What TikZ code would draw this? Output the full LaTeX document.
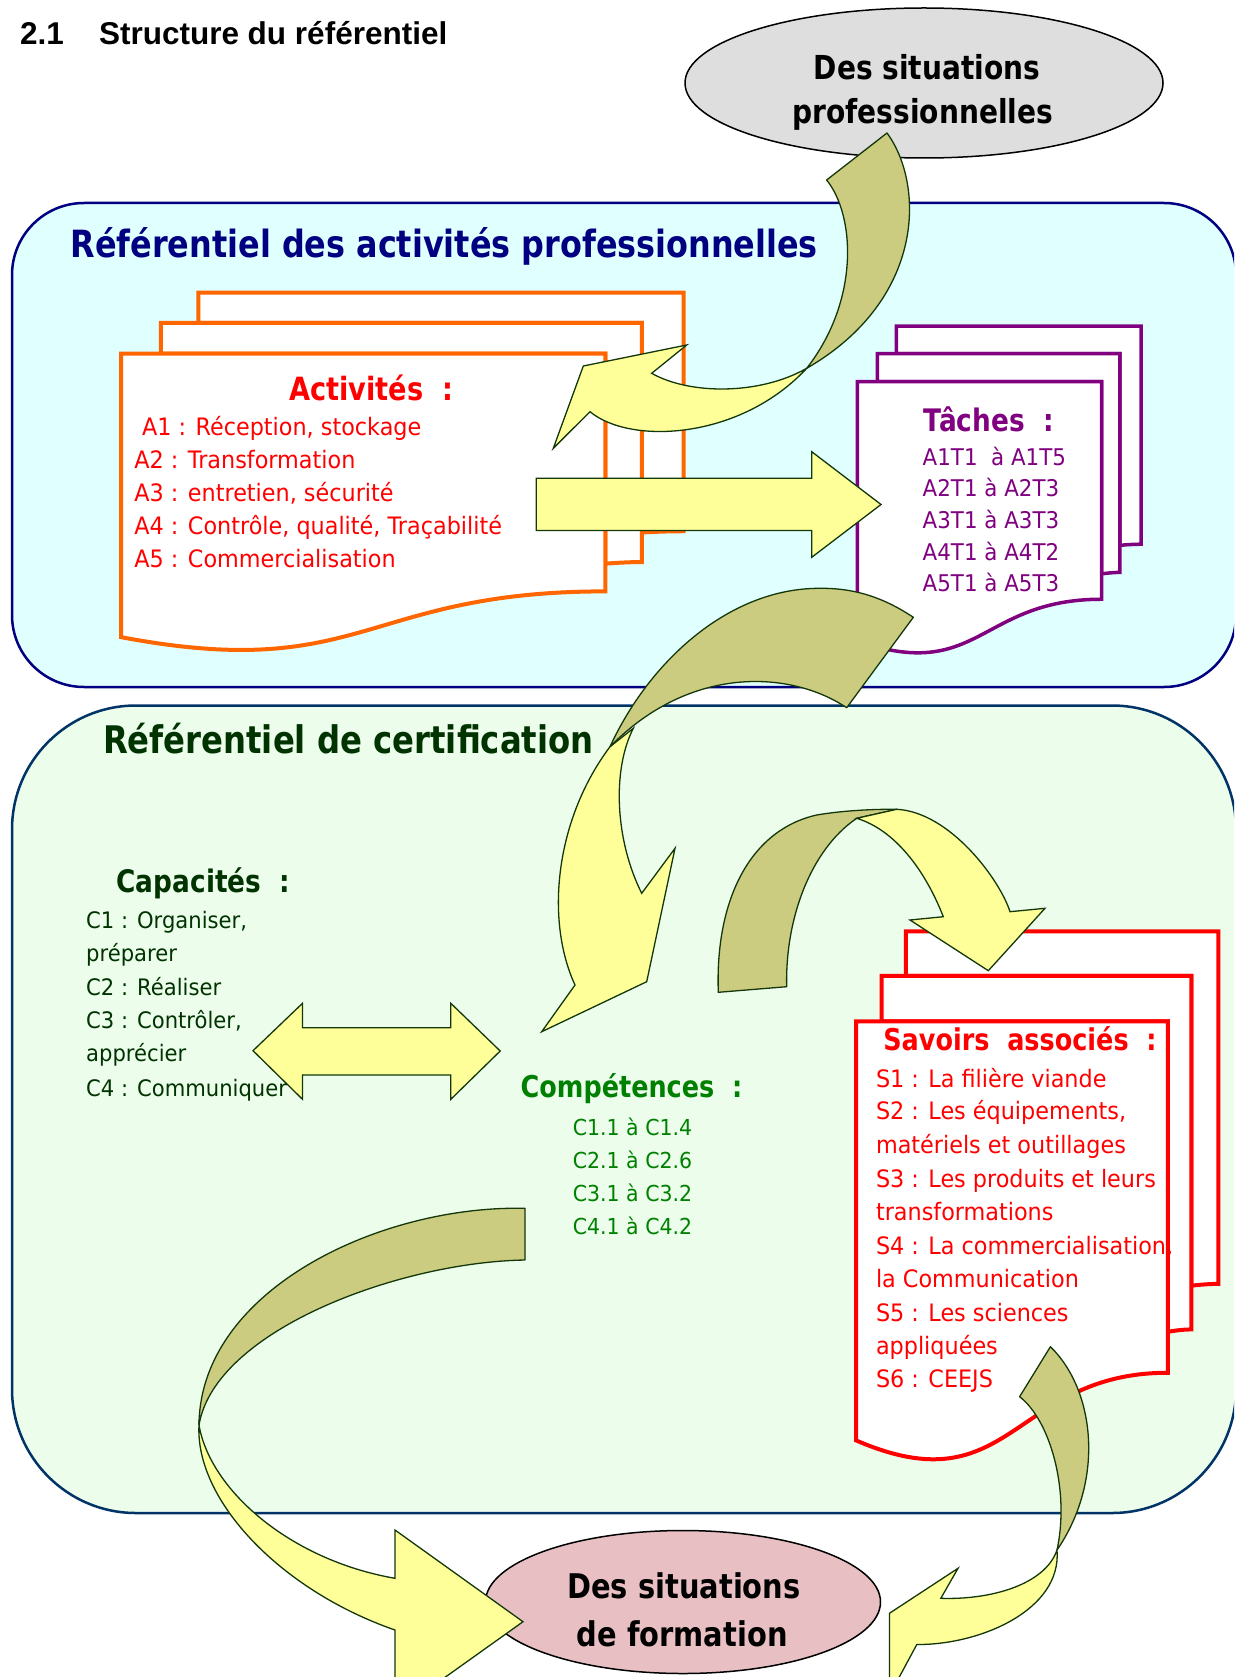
\documentclass[tikz,border=0pt]{standalone}
\usepackage{fontspec}
\newfontfamily\cfont{DejaVu Sans}[FakeStretch=0.93]
\newfontfamily\cbfont{DejaVu Sans}[FakeStretch=0.85]
\newfontfamily\arialfont{Liberation Sans}
\usetikzlibrary{shapes.geometric}
\definecolor{topfill}{RGB}{224,255,255}
\definecolor{navyc}{RGB}{0,0,128}
\definecolor{botfill}{RGB}{236,253,236}
\definecolor{botline}{RGB}{0,51,102}
\definecolor{dkgreen}{RGB}{0,51,0}
\definecolor{greenc}{RGB}{0,128,0}
\definecolor{orangec}{RGB}{255,102,0}
\definecolor{purplec}{RGB}{128,0,128}
\definecolor{redc}{RGB}{255,0,0}
\definecolor{olivec}{RGB}{204,204,128}
\definecolor{yelc}{RGB}{255,255,153}
\definecolor{arrline}{RGB}{20,55,10}
\definecolor{greyell}{RGB}{222,222,222}
\definecolor{pinkell}{RGB}{232,192,196}
\newcommand\mdoc[5]{%
 \begin{scope}[shift={(#1,#2)}, x=#3pt, y=-#4pt]
  \filldraw[fill=white, draw=#5, line join=miter] (13.76,8.40) -- (13.76,0) -- (100,0) -- (100,66.63) .. controls (96.30,66.63) and (92.59,66.98) .. (92.59,66.98) -- (92.59,8.40) -- cycle;
  \filldraw[fill=white, draw=#5, line join=miter] (7.09,17.01) -- (7.09,8.40) -- (92.59,8.40) -- (92.59,75.24) .. controls (89.34,75.24) and (86.09,75.70) .. (86.09,75.70) -- (86.09,17.01) -- cycle;
  \filldraw[fill=white, draw=#5, line join=miter] (0,96.21) .. controls (43.05,108.99) and (43.05,83.43) .. (86.09,83.43) -- (86.09,17.01) -- (0,17.01) -- cycle;
 \end{scope}}
\begin{document}
\begin{tikzpicture}[x=1pt,y=-1pt,
  txt/.style={inner sep=0pt, outer sep=0pt, anchor=base west},
  ctxt/.style={inner sep=0pt, outer sep=0pt, anchor=base},
  fr/.style={font=\cfont\fontsize{#1}{#1}\selectfont},
  fb/.style={font=\cbfont\bfseries\fontsize{#1}{#1}\selectfont},
  olv/.style={fill=olivec, draw=arrline, line width=1.3pt, line join=round},
  ylw/.style={fill=yelc, draw=arrline, line width=1.3pt, line join=miter},
  ell/.style={ellipse, draw=black, line width=1.5pt, inner sep=0pt}]
\useasboundingbox (0,0) rectangle (1234,1677);
\clip (0,0) rectangle (1234,1677);
\fill[white] (0,0) rectangle (1234,1677);

% frames
\node[draw=navyc, line width=2.5pt, fill=topfill, rounded corners=72pt, minimum width=1224pt, minimum height=484pt, inner sep=0pt] (boxA) at (624,445) {};
\node[draw=botline, line width=2.5pt, fill=botfill, rounded corners=124pt, minimum width=1224pt, minimum height=807.5pt, inner sep=0pt] (boxB) at (624,1109.25) {};

% ellipses
\node[ell, fill=greyell, minimum width=478pt, minimum height=150pt] (ellPro) at (924,83) {};
\node[ell, fill=pinkell, minimum width=395pt, minimum height=143pt] (ellForm) at (683,1602) {};

% document stacks
\mdoc{121}{292.7}{5.626}{3.58}{orangec, line width=4pt}
\mdoc{857.3}{326}{2.837}{3.275}{purplec, line width=3.5pt}
\mdoc{856}{931.4}{3.623}{5.29}{redc, line width=4pt}

% arrow: Activités -> Tâches
\draw[ylw] (536.3,478.3) -- (811.7,478.3) -- (811.7,451.7) -- (881,504.5) -- (811.7,557.3) -- (811.7,530.5) -- (536.3,530.5) -- cycle;

% arrow: situations pro -> Activités
\draw[olv] (887,133) .. controls (925,185) and (925,300) .. (806.7,368.3) .. controls (860,300) and (855,215) .. (826.6,180) -- cycle;
\draw[ylw] (806.7,368.3) .. controls (760,395) and (690,395) .. (651.7,373.3) -- (686.7,345) -- (583.3,366) -- (553.3,448.3) -- (590,411.7) .. controls (630,445) and (740,440) .. (806.7,368.3) -- cycle;

% arrow: Tâches -> Compétences
\draw[ylw] (610,746.7) .. controls (555,820) and (545,920) .. (575,985) -- (541.7,1031.7) -- (646.7,981.7) -- (675,848.3) -- (641.7,893.3) .. controls (615,840) and (612,770) .. (633.3,728.3) -- cycle;
\draw[olv] (913.3,617.3) .. controls (880,595) and (850,588) .. (820,588.3) .. controls (730,588) and (650,660) .. (610,746.7) .. controls (690,665) and (790,670) .. (846.7,707.7) -- cycle;

% arrow: Compétences -> Savoirs
\draw[olv] (718.3,992.3) .. controls (715,900) and (750,830) .. (816.7,815) .. controls (840,811) and (870,809) .. (896.7,809.3) -- (856.7,818.3) .. controls (810,850) and (785,920) .. (786.7,986.7) -- cycle;
\draw[ylw] (896.7,809.3) .. controls (950,812) and (1000,880) .. (1010,911.7) -- (1045,908.3) -- (988.3,970.7) -- (910,920) -- (943.3,916.7) .. controls (925,870) and (895,830) .. (856.7,818.3) -- cycle;

% double arrow Capacités <-> Compétences
\draw[ylw] (253,1050.7) -- (302.5,1003.3) -- (302.5,1027.7) -- (450.8,1027.7) -- (450.8,1003.3) -- (500.2,1051) -- (450.8,1099.3) -- (450.8,1075) -- (302.5,1075) -- (302.5,1099.3) -- cycle;

% arrow: Compétences -> situations de formation
\draw[olv] (525,1208.3) .. controls (380,1205) and (200,1290) .. (199,1425) .. controls (215,1330) and (400,1262) .. (525,1260) -- cycle;
\draw[ylw] (199,1425) .. controls (210,1490) and (290,1560) .. (395,1578.3) -- (395,1530) -- (523,1621.7) -- (395,1713) -- (395,1630) .. controls (280,1590) and (195,1500) .. (199,1425) -- cycle;

% arrow: Savoirs -> situations de formation
\draw[olv] (1050.4,1346.7) .. controls (1095,1390) and (1105,1480) .. (1057,1550) .. controls (1070,1490) and (1050,1420) .. (1019.6,1396.7) -- cycle;
\draw[ylw] (1057,1550) .. controls (1045,1585) and (990,1600) .. (940.8,1598.3) -- (958,1568.3) -- (889.4,1613.3) -- (889.4,1695.3) -- (916.8,1644.5) .. controls (980,1645) and (1062,1610) .. (1057,1550) -- cycle;

% section title
\node[txt, font=\arialfont\bfseries\fontsize{31.5}{36}\selectfont] (secnum) at (20,45) {2.1};
\node[txt, font=\arialfont\bfseries\fontsize{31.5}{36}\selectfont] (sectitle) at (99,45) {Structure du référentiel};

% ellipse texts
\node[ctxt, fb=33] (pro1) at (927,80) {Des situations};
\node[ctxt, fb=33] (pro2) at (922.7,124) {professionnelles};
\node[ctxt, fb=34] (form1) at (684,1598.3) {Des situations};
\node[ctxt, fb=34] (form2) at (682.2,1646.7) {de formation};

% frame titles
\node[txt, fb=37.5, text=navyc] (titA) at (70.6,258) {Référentiel des activités professionnelles};
\node[txt, fb=38, text=dkgreen] (titB) at (103,753) {Référentiel de certification};

% Activités
\node[txt, fb=32, text=redc] (actH) at (289.4,400) {Activités~~:};
\node[txt, fr=24, text=redc] (act1) at (142,435.5) {A1 : Réception, stockage};
\node[txt, fr=24, text=redc] (act2) at (134.4,468.5) {A2 : Transformation};
\node[txt, fr=24, text=redc] (act3) at (134.4,501.5) {A3 : entretien, sécurité};
\node[txt, fr=24, text=redc] (act4) at (134.4,534.5) {A4 : Contrôle, qualité, Traçabilité};
\node[txt, fr=24, text=redc] (act5) at (134.4,567.5) {A5 : Commercialisation};

% Tâches
\node[txt, fb=31, text=purplec] (tacH) at (923.3,431.7) {Tâches~~:};
\node[txt, fr=23, text=purplec] (tac1) at (922.7,465) {A1T1~~à A1T5};
\node[txt, fr=23, text=purplec] (tac2) at (922.7,496.7) {A2T1 à A2T3};
\node[txt, fr=23, text=purplec] (tac3) at (922.7,528.3) {A3T1 à A3T3};
\node[txt, fr=23, text=purplec] (tac4) at (922.7,560) {A4T1 à A4T2};
\node[txt, fr=23, text=purplec] (tac5) at (922.7,591.7) {A5T1 à A5T3};

% Capacités
\node[txt, fb=31, text=dkgreen] (capH) at (116.6,892.7) {Capacités~~:};
\node[txt, fr=22.7, text=dkgreen] (cap1) at (86.2,928.3) {C1 : Organiser,};
\node[txt, fr=22.7, text=dkgreen] (cap1b) at (86.2,961.7) {préparer};
\node[txt, fr=22.7, text=dkgreen] (cap2) at (86.2,995) {C2 : Réaliser};
\node[txt, fr=22.7, text=dkgreen] (cap3) at (86.2,1028.3) {C3 : Contrôler,};
\node[txt, fr=22.7, text=dkgreen] (cap3b) at (86.2,1061.7) {apprécier};
\node[txt, fr=22.7, text=dkgreen] (cap4) at (86.2,1096) {C4 : Communiquer};

% Compétences
\node[txt, fb=30, text=greenc] (comH) at (520.7,1097.3) {Compétences~~:};
\node[ctxt, fr=22, text=greenc] (com1) at (632.5,1135.7) {C1.1 à C1.4};
\node[ctxt, fr=22, text=greenc] (com2) at (632.5,1168.3) {C2.1 à C2.6};
\node[ctxt, fr=22, text=greenc] (com3) at (632.5,1201.7) {C3.1 à C3.2};
\node[ctxt, fr=22, text=greenc] (com4) at (632.5,1234.3) {C4.1 à C4.2};

% Savoirs associés
\node[txt, fb=30, text=redc] (savH) at (883.3,1050) {Savoirs~~associés~~:};
\node[txt, fr=24, text=redc] (sav1) at (876,1087.5) {S1 : La filière viande};
\node[txt, fr=24, text=redc] (sav2) at (876,1119.6) {S2 : Les équipements,};
\node[txt, fr=24, text=redc] (sav2b) at (876,1153.6) {matériels et outillages};
\node[txt, fr=24, text=redc] (sav3) at (876,1187.5) {S3 : Les produits et leurs};
\node[txt, fr=24, text=redc] (sav3b) at (876,1220.7) {transformations};
\node[txt, fr=24, text=redc] (sav4) at (876,1254.6) {S4 : La commercialisation,};
\node[txt, fr=24, text=redc] (sav4b) at (876,1287.5) {la Communication};
\node[txt, fr=24, text=redc] (sav5) at (876,1321.4) {S5 : Les sciences};
\node[txt, fr=24, text=redc] (sav5b) at (876,1354.3) {appliquées};
\node[txt, fr=24, text=redc] (sav6) at (876,1387.5) {S6 : CEEJS};
\end{tikzpicture}
\end{document}
